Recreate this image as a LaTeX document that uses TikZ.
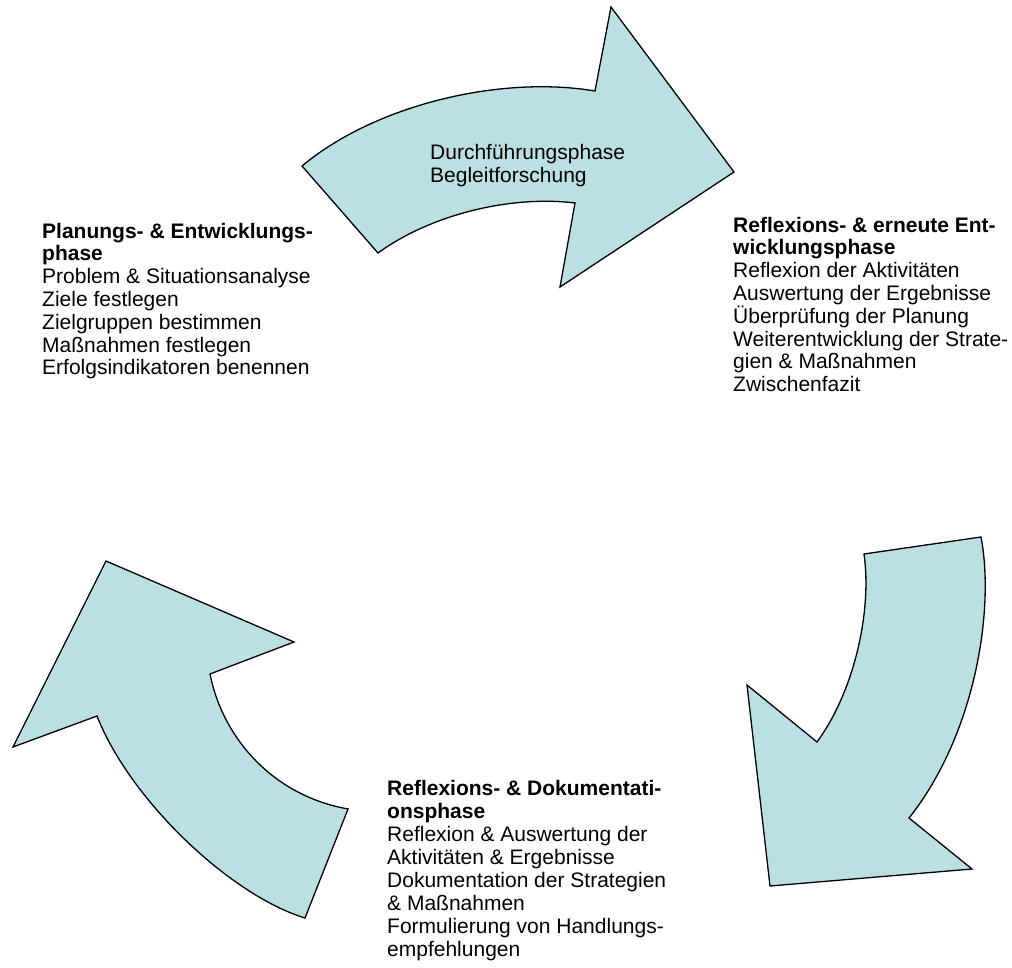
\documentclass[tikz,border=0pt]{standalone}
\usepackage{fontspec}
\setmainfont{Liberation Sans}
\usepackage{xcolor}
\definecolor{arrowfill}{RGB}{187,224,227}
\tikzset{
  phasearrow/.style={draw=black, line width=1.3pt, fill=arrowfill, line join=miter},
  % anchor base = baseline of the last line
  phasetext/.style={align=left, anchor=base west, inner sep=0pt, font=\fontsize{21}{#1}\selectfont},
}
\begin{document}
\begin{tikzpicture}[x=1pt,y=-1pt]
  \useasboundingbox (0,0) rectangle (1012,968);
  % top arrow
  \draw[phasearrow] (302,166) .. controls (375,105) and (500,75) .. (595,91)
    -- (611,7) -- (734,172) -- (560,287) -- (575,203)
    .. controls (510,195) and (430,215) .. (378,253) -- cycle;
  % right arrow
  \draw[phasearrow] (864,554) -- (981,537)
    .. controls (995,610) and (975,735) .. (909,818)
    -- (972,869) -- (770,886) -- (747,685) -- (817,742)
    .. controls (855,690) and (872,610) .. (864,554) -- cycle;
  % left arrow
  \draw[phasearrow] (106,561) -- (294,642) -- (210,674)
    .. controls (222,735) and (270,795) .. (348,809)
    -- (305,918) .. controls (230,895) and (130,800) .. (97,716)
    -- (13,747) -- cycle;
  \node[phasetext=23.4] (durch) at (430,182.7) {Durchführungsphase\\Begleitforschung};
  \node[phasetext=22.8] (plan) at (42,374.8) {\textbf{Planungs- \& Entwicklungs-}\\\textbf{phase}\\
    Problem \& Situationsanalyse\\Ziele festlegen\\Zielgruppen bestimmen\\
    Maßnahmen festlegen\\Erfolgsindikatoren benennen};
  \node[phasetext=22.8] (erneut) at (733,391.6) {\textbf{Reflexions- \& erneute Ent-}\\\textbf{wicklungsphase}\\
    Reflexion der Aktivitäten\\Auswertung der Ergebnisse\\Überprüfung der Planung\\
    Weiterentwicklung der Strate-\\gien \& Maßnahmen\\Zwischenfazit};
  \node[phasetext=23] (doku) at (387,956) {\textbf{Reflexions- \& Dokumentati-}\\\textbf{onsphase}\\
    Reflexion \& Auswertung der\\Aktivitäten \& Ergebnisse\\Dokumentation der Strategien\\
    \& Maßnahmen\\Formulierung von Handlungs-\\empfehlungen};
\end{tikzpicture}
\end{document}
